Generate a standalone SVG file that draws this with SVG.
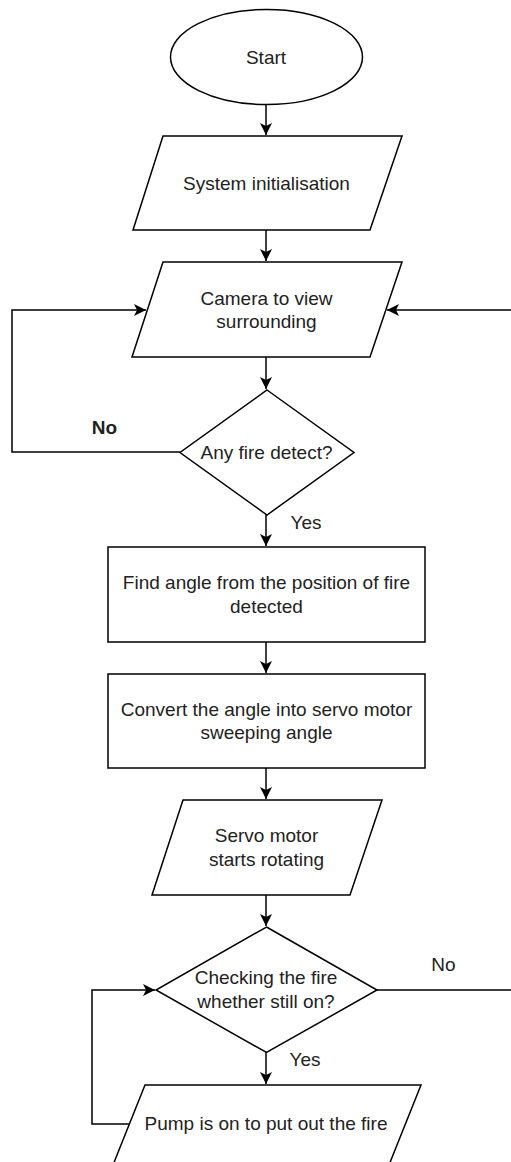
<svg xmlns="http://www.w3.org/2000/svg" width="511" height="1162" viewBox="0 0 511 1162">
<style>
.shape{fill:#ffffff;stroke:#000000;stroke-width:1.5}
.edge{fill:none;stroke:#000000;stroke-width:1.5}
.t{font-family:"Liberation Sans",Arial,sans-serif;font-size:19px;fill:#222222;text-anchor:middle}
.b{font-weight:bold}
</style>
<defs>
<marker id="arr" markerUnits="userSpaceOnUse" viewBox="0 0 12 12" refX="12" refY="6" markerWidth="12" markerHeight="12" orient="auto">
<path d="M0,0 L12,6 L0,12 L3,6 Z" fill="#000000"/>
</marker>
</defs>
<rect width="511" height="1162" fill="#ffffff"/>
<g id="connectors">
<path class="edge" d="M266,104.5 L266,135" marker-end="url(#arr)"/>
<path class="edge" d="M266,230 L266,261" marker-end="url(#arr)"/>
<path class="edge" d="M266,357 L266,389" marker-end="url(#arr)"/>
<path class="edge" d="M180,452 L12,452 L12,310 L146,310" marker-end="url(#arr)"/>
<path class="edge" d="M266,515 L266,546" marker-end="url(#arr)"/>
<path class="edge" d="M266,642 L266,673" marker-end="url(#arr)"/>
<path class="edge" d="M266,768 L266,799" marker-end="url(#arr)"/>
<path class="edge" d="M266,895 L266,926" marker-end="url(#arr)"/>
<path class="edge" d="M377,990 L530,990 L530,310 L387,310" marker-end="url(#arr)"/>
<path class="edge" d="M266,1052 L266,1084" marker-end="url(#arr)"/>
<path class="edge" d="M129,1124 L92,1124 L92,990 L155,990" marker-end="url(#arr)"/>
</g>
<g id="start">
<ellipse class="shape" cx="266.5" cy="57" rx="96" ry="47.5"/>
<text class="t" x="266" y="63.5">Start</text>
</g>
<g id="init">
<polygon class="shape" points="163,136 402,136 370,230 133,230"/>
<text class="t" x="266.5" y="189.5">System initialisation</text>
</g>
<g id="camera">
<polygon class="shape" points="163,262 402,262 370,357 132,357"/>
<text class="t" x="266.5" y="304.5">Camera to view</text>
<text class="t" x="266.5" y="328">surrounding</text>
</g>
<g id="detect">
<polygon class="shape" points="267,390 354,452.5 267,515 180,452.5"/>
<text class="t" x="266.5" y="458.5">Any fire detect?</text>
</g>
<g id="label-no1">
<text class="t b" x="104.5" y="433.5">No</text>
</g>
<g id="label-yes1">
<text class="t" x="306" y="529">Yes</text>
</g>
<g id="findangle">
<rect class="shape" x="108" y="547" width="317" height="95"/>
<text class="t" x="266.5" y="589">Find angle from the position of fire</text>
<text class="t" x="266.5" y="613">detected</text>
</g>
<g id="convert">
<rect class="shape" x="108" y="674" width="317" height="94"/>
<text class="t" x="266.5" y="715.5">Convert the angle into servo motor</text>
<text class="t" x="266.5" y="739">sweeping angle</text>
</g>
<g id="servo">
<polygon class="shape" points="183,800 382,800 350,895 152,895"/>
<text class="t" x="266.5" y="842">Servo motor</text>
<text class="t" x="266.5" y="865.5">starts rotating</text>
</g>
<g id="checking">
<polygon class="shape" points="266.5,927 377,990 266.5,1052.5 156,990"/>
<text class="t" x="266" y="983.5">Checking the fire</text>
<text class="t" x="266" y="1008">whether still on?</text>
</g>
<g id="label-no2">
<text class="t" x="443.5" y="971">No</text>
</g>
<g id="label-yes2">
<text class="t" x="305" y="1066">Yes</text>
</g>
<g id="pump">
<polygon class="shape" points="145,1085 421,1085 385,1175 109,1175"/>
<text class="t" x="266" y="1129.5">Pump is on to put out the fire</text>
</g>
</svg>
